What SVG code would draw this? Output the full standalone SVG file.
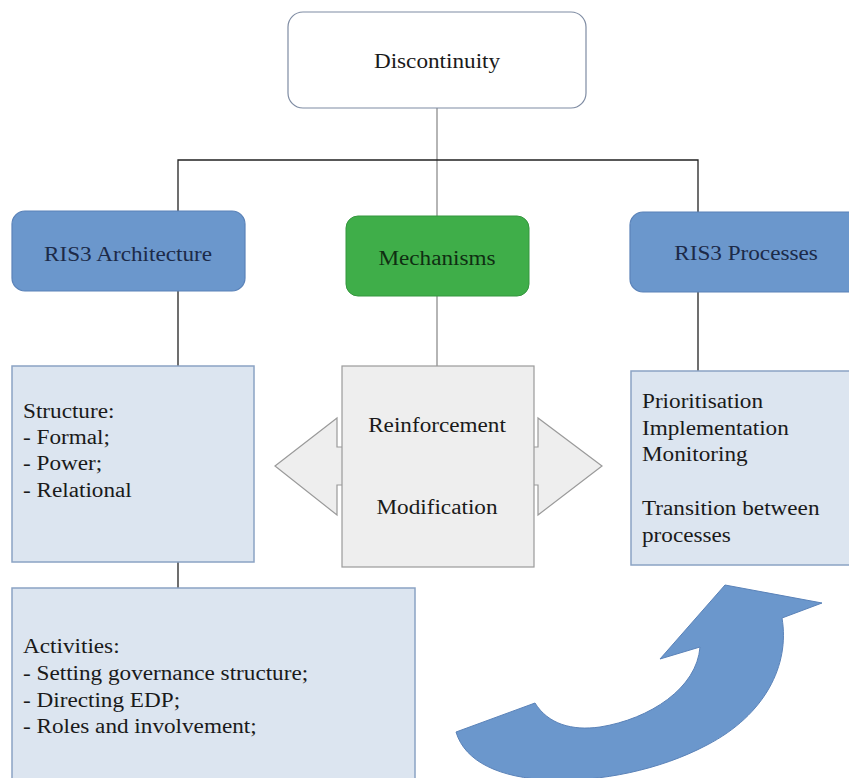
<svg xmlns="http://www.w3.org/2000/svg" width="849" height="778" viewBox="0 0 849 778">
<style>
text{font-family:"Liberation Serif","Times New Roman",Tinos,"Noto Serif","DejaVu Serif",serif;font-size:20px;fill:#1a1a1a}
.c{text-anchor:middle}
.blue{fill:#6b97cc;stroke:#5a82b8;stroke-width:1.2}
.blt{fill:#1c2a48}
.lb{fill:#dce5f0;stroke:#8ba3c4;stroke-width:1.5}
.ln{stroke:#222;stroke-width:1.3;fill:none}
.gl{stroke:#b5b5b5;stroke-width:2;fill:none}
</style>
<rect width="849" height="778" fill="#ffffff"/>
<g id="connectors">
<path class="gl" d="M437,108 V216 M437,296 V366"/>
<path class="ln" d="M178,212 V160 H698 V212"/>
<path class="ln" d="M178,291 V366 M178,562 V588 M698,292 V371"/>
</g>
<g id="discontinuity">
<rect x="288" y="12" width="298" height="96" rx="15" fill="#ffffff" stroke="#7f8ca3" stroke-width="1.2"/>
<text class="c" transform="matrix(1.16,0,0,1,437,68)">Discontinuity</text>
</g>
<g id="ris3-architecture">
<rect class="blue" x="12" y="211" width="233" height="80" rx="13"/>
<text class="c blt" transform="matrix(1.16,0,0,1,128,261)">RIS3 Architecture</text>
</g>
<g id="mechanisms">
<rect x="346" y="216" width="183" height="80" rx="12" fill="#3fae49" stroke="#35963e" stroke-width="1"/>
<text class="c" style="fill:#0f2e12" transform="matrix(1.16,0,0,1,437,265)">Mechanisms</text>
</g>
<g id="ris3-processes">
<rect class="blue" x="630" y="212" width="232" height="80" rx="13"/>
<text class="c blt" transform="matrix(1.16,0,0,1,746,260)">RIS3 Processes</text>
</g>
<g id="structure">
<rect class="lb" x="12" y="366" width="242" height="196"/>
<text transform="matrix(1.16,0,0,1,23,418)">Structure:</text>
<text transform="matrix(1.16,0,0,1,23,444)">- Formal;</text>
<text transform="matrix(1.16,0,0,1,23,470)">- Power;</text>
<text transform="matrix(1.16,0,0,1,23,497)">- Relational</text>
</g>
<g id="reinforcement-modification">
<polygon points="275,466 337,418 337,447 538,447 538,418 602,466 538,515 538,485 337,485 337,515" fill="#eeeeee" stroke="#9a9a9a" stroke-width="1.2"/>
<rect x="342" y="366" width="192" height="201" fill="#eeeeee" stroke="#9a9a9a" stroke-width="1.2"/>
<text class="c" transform="matrix(1.16,0,0,1,437,432)">Reinforcement</text>
<text class="c" transform="matrix(1.16,0,0,1,437,514)">Modification</text>
</g>
<g id="processes-list">
<rect class="lb" x="631" y="371" width="230" height="194"/>
<text transform="matrix(1.16,0,0,1,642,408)">Prioritisation</text>
<text transform="matrix(1.16,0,0,1,642,435)">Implementation</text>
<text transform="matrix(1.16,0,0,1,642,461)">Monitoring</text>
<text transform="matrix(1.16,0,0,1,642,515)">Transition between</text>
<text transform="matrix(1.16,0,0,1,642,542)">processes</text>
</g>
<g id="activities">
<rect class="lb" x="12" y="588" width="403" height="200"/>
<text transform="matrix(1.16,0,0,1,23,653)">Activities:</text>
<text transform="matrix(1.16,0,0,1,23,680)">- Setting governance structure;</text>
<text transform="matrix(1.16,0,0,1,23,707)">- Directing EDP;</text>
<text transform="matrix(1.16,0,0,1,23,733)">- Roles and involvement;</text>
</g>
<g id="cycle-arrow">
<path d="M456,732 L535,703 C548,724 572,731 600,727 C650,719 697,688 700,647 L660,659 L725,585 L822,603 L782,618 C790,665 765,715 707,745 C660,770 600,782 550,780 C500,778 465,762 456,732 Z" fill="#6b97cc" stroke="#5a82b8" stroke-width="1"/>
</g>
</svg>
